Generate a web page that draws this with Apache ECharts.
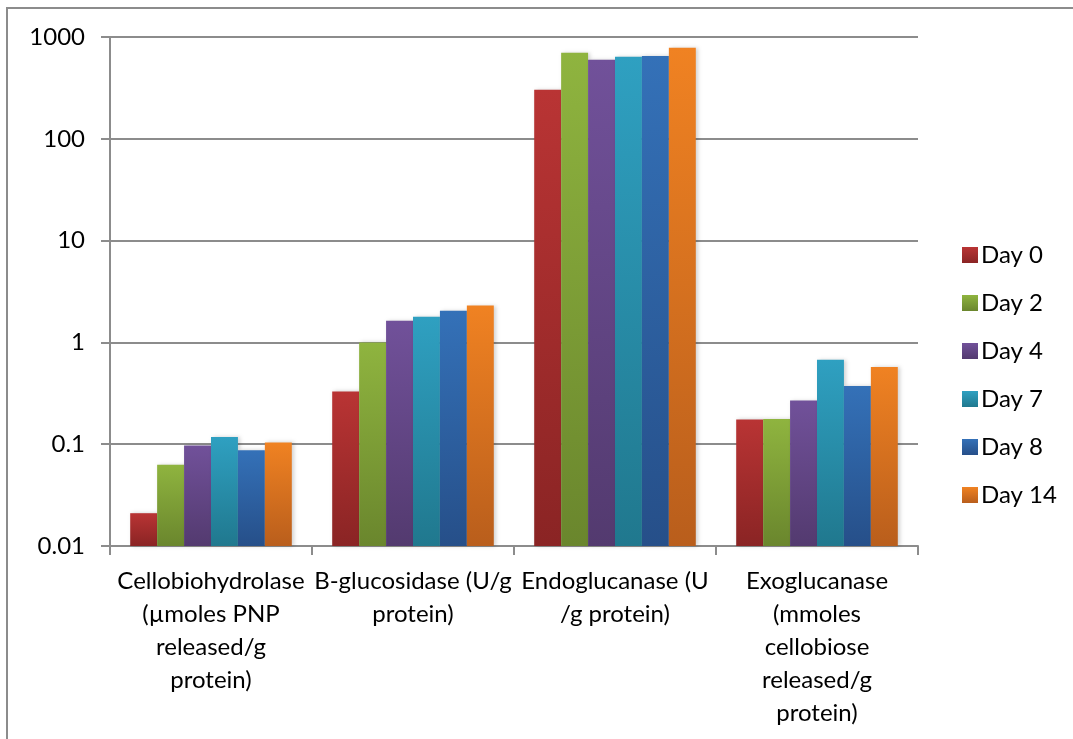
<!DOCTYPE html>
<html>
<head>
<meta charset="utf-8">
<script src="https://cdn.jsdelivr.net/npm/echarts@6/dist/echarts.min.js"></script>
<style>
  html, body { margin: 0; padding: 0; background: #fff; }
  #chart { width: 1073px; height: 739px; }
</style>
</head>
<body>
<div id="chart"></div>
<script>
// Enzyme activity categories (wrapped as they appear under the axis)
const categories = [
  'Cellobiohydrolase\n(µmoles PNP\nreleased/g\nprotein)',
  'B-glucosidase (U/g\nprotein)',
  'Endoglucanase (U\n/g protein)',
  'Exoglucanase\n(mmoles\ncellobiose\nreleased/g\nprotein)'
];

const seriesNames = ['Day 0', 'Day 2', 'Day 4', 'Day 7', 'Day 8', 'Day 14'];

// Activity per sampling day, in category order
const day0  = [0.021, 0.33, 303, 0.175];
const day2  = [0.063, 1.00, 700, 0.177];
const day4  = [0.097, 1.63, 598, 0.268];
const day7  = [0.118, 1.79, 641, 0.676];
const day8  = [0.087, 2.05, 651, 0.374];
const day14 = [0.104, 2.30, 786, 0.574];

const yTickLabels = ['0.01', '0.1', '1', '10', '100', '1000'];

// Top / bottom gradient colours for each series
const barColors = [
  ['#b93434', '#8a2424'],
  ['#8fb43f', '#6a862d'],
  ['#71519a', '#533a6f'],
  ['#2fa0c1', '#20788e'],
  ['#3471b8', '#264f89'],
  ['#f08222', '#b95e1c']
];

const FONT = 'Lato, "Noto Sans", sans-serif';
const AXIS_GRAY = '#8c8c8c';

const seriesData = [day0, day2, day4, day7, day8, day14];

const chart = echarts.init(document.getElementById('chart'), null, { renderer: 'canvas' });

chart.setOption({
  backgroundColor: '#ffffff',
  animation: false,
  textStyle: { fontFamily: FONT, color: '#000' },
  graphic: [{
    type: 'rect',
    shape: { x: 7, y: 8, width: 1100, height: 800 },
    style: { fill: 'none', stroke: AXIS_GRAY, lineWidth: 2 },
    silent: true
  }],
  grid: { left: 110, right: 155, top: 37, bottom: 193, containLabel: false },
  legend: {
    orient: 'vertical',
    left: 957,
    top: 238,
    icon: 'rect',
    itemWidth: 16,
    itemHeight: 16,
    itemGap: 24,
    textStyle: { fontFamily: FONT, fontSize: 24, color: '#000', padding: [0, 0, 0, -2] },
    data: seriesNames
  },
  xAxis: {
    type: 'category',
    data: categories,
    axisLine: { show: true, lineStyle: { color: AXIS_GRAY, width: 2 } },
    axisTick: { show: true, length: 9, lineStyle: { color: AXIS_GRAY, width: 2 } },
    axisLabel: {
      interval: 0,
      margin: 19,
      fontFamily: FONT,
      fontSize: 24,
      lineHeight: 33,
      color: '#000',
      align: 'center'
    },
    splitLine: { show: false }
  },
  yAxis: {
    type: 'log',
    logBase: 10,
    min: 0.01,
    max: 1000,
    startValue: 0.01,
    axisLine: { show: true, lineStyle: { color: AXIS_GRAY, width: 2 } },
    axisTick: { show: true, length: 9, lineStyle: { color: AXIS_GRAY, width: 2 } },
    axisLabel: {
      margin: 25,
      fontFamily: FONT,
      fontSize: 24,
      color: '#000',
      formatter: v => yTickLabels[Math.round(Math.log10(v)) + 2]
    },
    splitLine: { show: true, lineStyle: { color: AXIS_GRAY, width: 2 } },
    minorTick: { show: false }
  },
  series: seriesNames.map((name, i) => ({
    name,
    type: 'bar',
    data: seriesData[i],
    barGap: '0%',
    barCategoryGap: '20%',
    itemStyle: {
      color: new echarts.graphic.LinearGradient(0, 0, 0, 1, [
        { offset: 0, color: barColors[i][0] },
        { offset: 1, color: barColors[i][1] }
      ]),
      shadowColor: 'rgba(0,0,0,0.18)',
      shadowBlur: 4,
      shadowOffsetX: 2
    }
  }))
});
</script>
</body>
</html>
